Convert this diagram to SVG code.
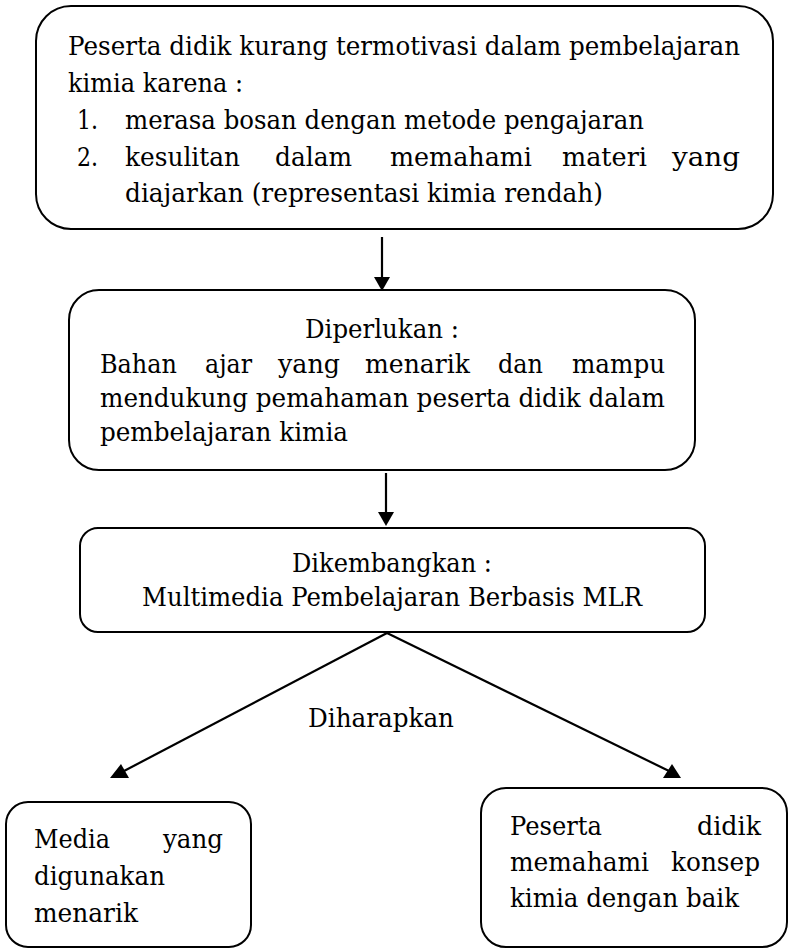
<svg xmlns="http://www.w3.org/2000/svg" width="789" height="949" viewBox="0 0 789 949">
<style>
.box{fill:#fff;stroke:#000;stroke-width:2}
.t{font-family:"DejaVu Serif","Liberation Serif",serif;font-size:26px;fill:#000}
.ln{stroke:#000;stroke-width:2.2;fill:none}
.ah{fill:#000}
</style>
<rect width="789" height="949" fill="#fff"/>
<g id="node-masalah">
<rect class="box" x="36" y="6" width="737" height="223" rx="35"/>
<text class="t" x="68" y="55" textLength="672" lengthAdjust="spacingAndGlyphs">Peserta didik kurang termotivasi dalam pembelajaran</text>
<text class="t" x="68" y="92" textLength="175" lengthAdjust="spacingAndGlyphs">kimia karena :</text>
<text class="t" x="77" y="129" textLength="21" lengthAdjust="spacingAndGlyphs">1.</text>
<text class="t" x="125" y="129" textLength="519" lengthAdjust="spacingAndGlyphs">merasa bosan dengan metode pengajaran</text>
<text class="t" x="77" y="166" textLength="21" lengthAdjust="spacingAndGlyphs">2.</text>
<text class="t" y="166"><tspan x="125" textLength="115" lengthAdjust="spacingAndGlyphs">kesulitan</tspan><tspan x="275" textLength="77" lengthAdjust="spacingAndGlyphs">dalam</tspan><tspan x="390" textLength="142" lengthAdjust="spacingAndGlyphs">memahami</tspan><tspan x="562" textLength="85" lengthAdjust="spacingAndGlyphs">materi</tspan><tspan x="672" textLength="68" lengthAdjust="spacingAndGlyphs">yang</tspan></text>
<text class="t" x="125" y="202" textLength="478" lengthAdjust="spacingAndGlyphs">diajarkan (representasi kimia rendah)</text>
</g>
<g id="node-diperlukan">
<rect class="box" x="69" y="290" width="626" height="180" rx="30"/>
<text class="t" x="305" y="338" textLength="154" lengthAdjust="spacingAndGlyphs">Diperlukan :</text>
<text class="t" y="373"><tspan x="100" textLength="77" lengthAdjust="spacingAndGlyphs">Bahan</tspan><tspan x="205" textLength="47" lengthAdjust="spacingAndGlyphs">ajar</tspan><tspan x="278" textLength="62" lengthAdjust="spacingAndGlyphs">yang</tspan><tspan x="365" textLength="105" lengthAdjust="spacingAndGlyphs">menarik</tspan><tspan x="498" textLength="45" lengthAdjust="spacingAndGlyphs">dan</tspan><tspan x="572" textLength="93" lengthAdjust="spacingAndGlyphs">mampu</tspan></text>
<text class="t" x="100" y="407" textLength="565" lengthAdjust="spacingAndGlyphs">mendukung pemahaman peserta didik dalam</text>
<text class="t" x="100" y="441" textLength="248" lengthAdjust="spacingAndGlyphs">pembelajaran kimia</text>
</g>
<g id="node-dikembangkan">
<rect class="box" x="80" y="528" width="625" height="104" rx="18"/>
<text class="t" x="292" y="572" textLength="200" lengthAdjust="spacingAndGlyphs">Dikembangkan :</text>
<text class="t" x="142" y="606" textLength="500" lengthAdjust="spacingAndGlyphs">Multimedia Pembelajaran Berbasis MLR</text>
</g>
<g id="node-media">
<rect class="box" x="6" y="802" width="245" height="145" rx="22"/>
<text class="t" y="848"><tspan x="34" textLength="76" lengthAdjust="spacingAndGlyphs">Media</tspan><tspan x="163" textLength="60" lengthAdjust="spacingAndGlyphs">yang</tspan></text>
<text class="t" x="34" y="885" textLength="131" lengthAdjust="spacingAndGlyphs">digunakan</text>
<text class="t" x="34" y="922" textLength="104" lengthAdjust="spacingAndGlyphs">menarik</text>
</g>
<g id="node-konsep">
<rect class="box" x="481" y="788" width="306" height="159" rx="25"/>
<text class="t" y="835"><tspan x="510" textLength="92" lengthAdjust="spacingAndGlyphs">Peserta</tspan><tspan x="697" textLength="64" lengthAdjust="spacingAndGlyphs">didik</tspan></text>
<text class="t" y="871"><tspan x="510" textLength="139" lengthAdjust="spacingAndGlyphs">memahami</tspan><tspan x="671" textLength="89" lengthAdjust="spacingAndGlyphs">konsep</tspan></text>
<text class="t" x="510" y="907" textLength="229" lengthAdjust="spacingAndGlyphs">kimia dengan baik</text>
</g>
<g id="connectors">
<line class="ln" x1="382" y1="237" x2="382" y2="280"/>
<polygon class="ah" points="374,277 390,277 382,291"/>
<line class="ln" x1="386" y1="473" x2="386" y2="515"/>
<polygon class="ah" points="378,512 394,512 386,526"/>
<line class="ln" x1="387" y1="633" x2="124" y2="771"/>
<polygon class="ah" points="110,778 129,778 121,764"/>
<line class="ln" x1="387" y1="633" x2="669" y2="771"/>
<polygon class="ah" points="663,778 681,778 672,764"/>
<text class="t" x="308" y="727" textLength="146" lengthAdjust="spacingAndGlyphs">Diharapkan</text>
</g>
</svg>
